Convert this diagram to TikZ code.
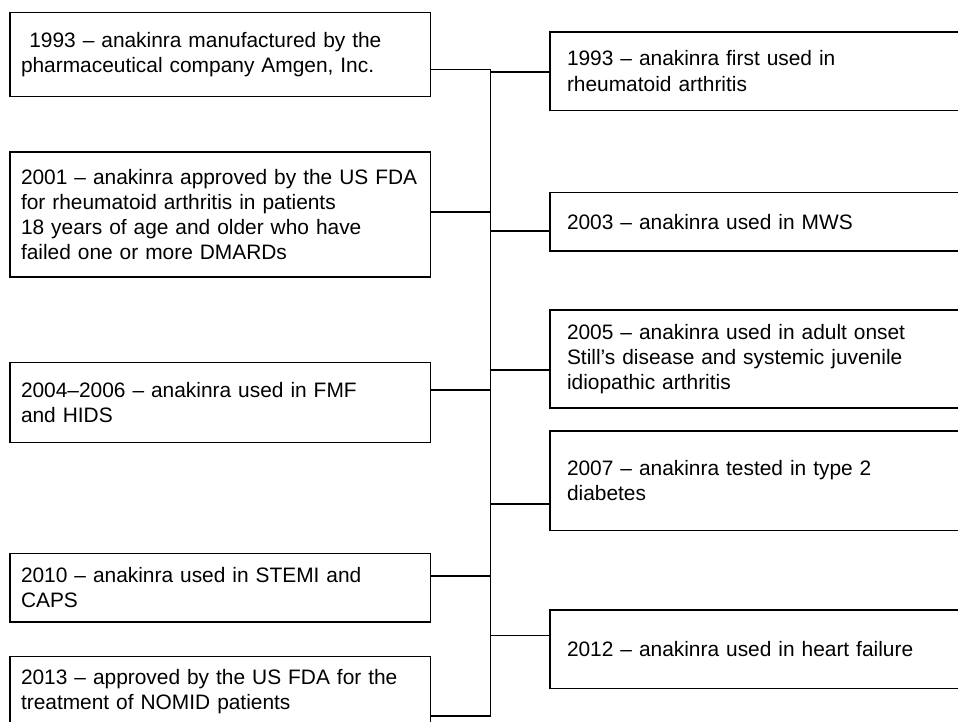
\documentclass[tikz,border=0pt]{standalone}
\usepackage{fontspec}
\setmainfont{Liberation Sans}
\begin{document}
\begin{tikzpicture}[x=1pt,y=-1pt,
  box/.style={draw, line width=1.3pt, rectangle, anchor=north west, align=left,
    font=\fontsize{20.9}{25.3}\selectfont, inner ysep=0pt, outer sep=0pt},
  lbox/.style={box, text width=398.7pt, inner xsep=11pt},
  rbox/.style={box, text width=401pt, inner xsep=17pt},
  conn/.style={line width=1.3pt}]
\path[use as bounding box, clip] (0,0) rectangle (958,722);

\node[lbox, minimum height=84.2pt] (l1) at (10,12.5) {\hspace*{0.4em}1993 – anakinra manufactured by the\\pharmaceutical company Amgen, Inc.};
\node[lbox, minimum height=125pt] (l2) at (10,152) {\mbox{2001 – anakinra approved by the US FDA}\\for rheumatoid arthritis in patients\\18 years of age and older who have\\failed one or more DMARDs};
\node[lbox, minimum height=79.6pt] (l3) at (10,362.7) {2004–2006 – anakinra used in FMF\\and HIDS};
\node[lbox, minimum height=68.7pt] (l4) at (10,553.3) {2010 – anakinra used in STEMI and\\CAPS};
\node[lbox, minimum height=70.3pt] (l5) at (10,656.7) {\mbox{2013 – approved by the US FDA for the}\\treatment of NOMID patients};

\node[rbox, minimum height=78.3pt] (r1) at (550,32) {1993 – anakinra first used in\\rheumatoid arthritis};
\node[rbox, minimum height=58.6pt] (r2) at (550,192.4) {2003 – anakinra used in MWS};
\node[rbox, minimum height=98pt] (r3) at (550,310) {2005 – anakinra used in adult onset\\Still’s disease and systemic juvenile\\idiopathic arthritis};
\node[rbox, minimum height=99.5pt] (r4) at (550,431) {2007 – anakinra tested in type 2\\diabetes};
\node[rbox, minimum height=78.7pt] (r5) at (550,610) {2012 – anakinra used in heart failure};

\coordinate (sl1) at (490.5,69.7);
\coordinate (sl2) at (490.5,212);
\coordinate (sl3) at (490.5,390);
\coordinate (sl4) at (490.5,576);
\coordinate (sl5) at (490.5,716);
\coordinate (sr1) at (490.5,72);
\coordinate (sr2) at (490.5,231);
\coordinate (sr3) at (490.5,370);
\coordinate (sr4) at (490.5,504);
\coordinate (sr5) at (490.5,635.7);

\draw[conn] (sl1 -| l1.east) -- (sl1) -- (sl5) -- (sl5 -| l5.east);
\draw[conn] (sl2 -| l2.east) -- (sl2);
\draw[conn] (sl3 -| l3.east) -- (sl3);
\draw[conn] (sl4 -| l4.east) -- (sl4);
\draw[conn] (sr1) -- (sr1 -| r1.west);
\draw[conn] (sr2) -- (sr2 -| r2.west);
\draw[conn] (sr3) -- (sr3 -| r3.west);
\draw[conn] (sr4) -- (sr4 -| r4.west);
\draw[conn] (sr5) -- (sr5 -| r5.west);
\end{tikzpicture}
\end{document}
